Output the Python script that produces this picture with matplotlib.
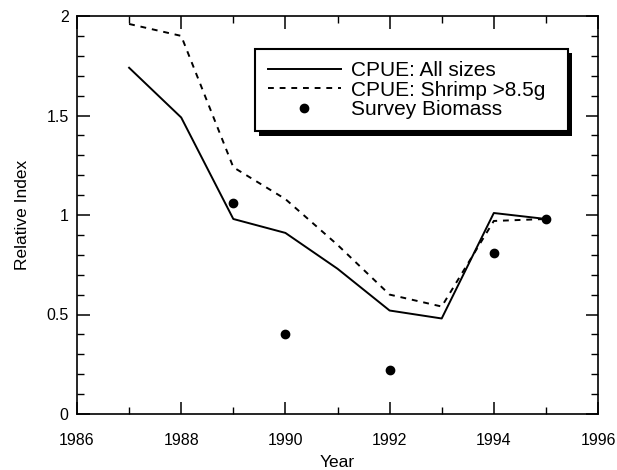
import matplotlib
matplotlib.use("Agg")
import matplotlib.pyplot as plt
import matplotlib.patheffects as pe
from matplotlib.ticker import MultipleLocator, FuncFormatter

plt.rcParams['font.family'] = ['Liberation Sans', 'DejaVu Sans']

years = [1987, 1988, 1989, 1990, 1991, 1992, 1993, 1994, 1995]
cpue_all = [1.74, 1.49, 0.98, 0.91, 0.73, 0.52, 0.48, 1.01, 0.98]
cpue_large = [1.96, 1.90, 1.24, 1.08, 0.85, 0.60, 0.54, 0.97, 0.98]
survey_years = [1989, 1990, 1992, 1994, 1995]
survey_biomass = [1.06, 0.40, 0.22, 0.81, 0.98]

fig = plt.figure(figsize=(6.17, 4.70), dpi=100)
ax = fig.add_axes([77/617, 1 - 414/470, 521/617, 398/470])

ax.plot(years, cpue_all, color='black', lw=1.4, label='CPUE: All sizes')
ax.plot(years, cpue_large, color='black', lw=1.4, ls=(0, (3, 3)),
        label='CPUE: Shrimp >8.5g')
ax.plot(survey_years, survey_biomass, 'o', color='black', ms=6,
        label='Survey Biomass')

ax.set_xlim(1986, 1996)
ax.set_ylim(0, 2)
ax.xaxis.set_major_locator(MultipleLocator(2))
ax.xaxis.set_minor_locator(MultipleLocator(1))
ax.yaxis.set_major_locator(MultipleLocator(0.5))
ax.yaxis.set_minor_locator(MultipleLocator(0.1))
ax.yaxis.set_major_formatter(FuncFormatter(lambda v, p: '%g' % v))
ax.tick_params(which='both', direction='in', top=True, right=True,
               labelsize=11.5)
ax.tick_params(axis='x', pad=14)
ax.tick_params(axis='y', pad=6)
ax.tick_params(which='major', length=9, width=1.1)
ax.tick_params(which='minor', length=5, width=1)
for s in ax.spines.values():
    s.set_linewidth(1.2)

ax.set_xlabel('Year', fontsize=12.5, labelpad=5)
ax.set_ylabel('Relative Index', fontsize=12.5, labelpad=12)

leg = ax.legend(loc='upper left', bbox_to_anchor=(0.342, 0.5, 0.60, 0.418),
                mode='expand',
                fancybox=False, shadow=False, frameon=True, fontsize=15,
                handlelength=3.5, handletextpad=0.5, labelspacing=0.02,
                borderpad=0.6, borderaxespad=0, framealpha=1)
frame = leg.get_frame()
frame.set_edgecolor('black')
frame.set_linewidth(1.5)
frame.set_path_effects([
    pe.SimplePatchShadow(offset=(3, -3), shadow_rgbFace='black', alpha=1),
    pe.Normal()])

fig.savefig('out.png', dpi=100)
